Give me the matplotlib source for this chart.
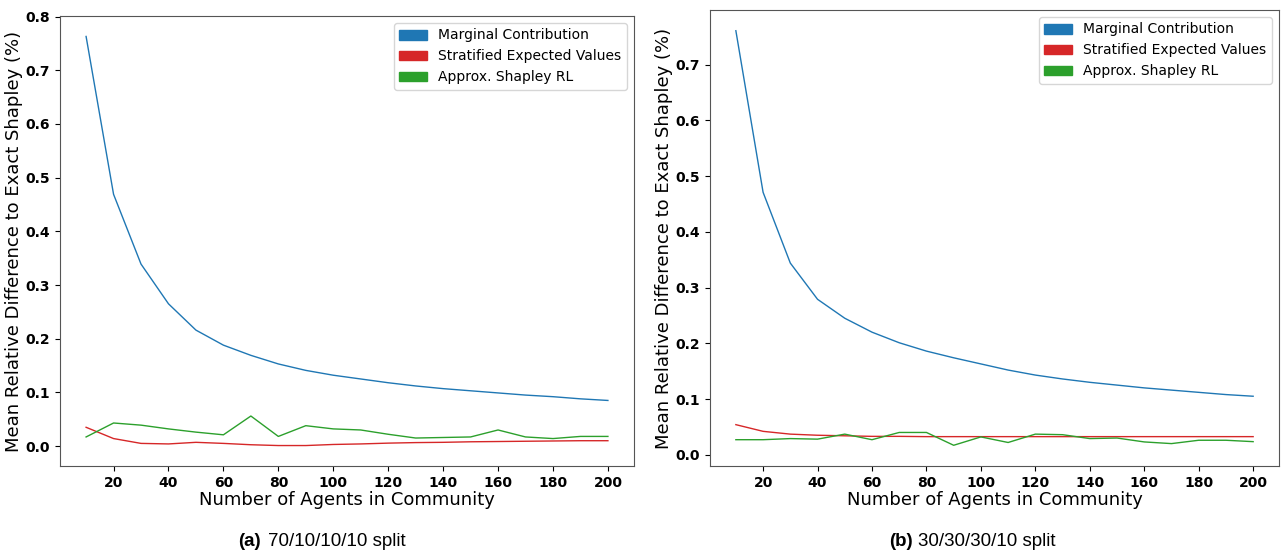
import matplotlib.pyplot as plt
from matplotlib.patches import Patch

agents = [10, 20, 30, 40, 50, 60, 70, 80, 90, 100,
          110, 120, 130, 140, 150, 160, 170, 180, 190, 200]

# (a) 70/10/10/10 split
mc_a = [0.763, 0.469, 0.339, 0.265, 0.216, 0.188, 0.169, 0.153, 0.141, 0.132,
        0.125, 0.118, 0.112, 0.107, 0.103, 0.099, 0.095, 0.092, 0.088, 0.085]
sev_a = [0.035, 0.014, 0.005, 0.004, 0.007, 0.005, 0.0025, 0.001, 0.001, 0.003,
         0.004, 0.0055, 0.0065, 0.007, 0.008, 0.0085, 0.009, 0.0095, 0.01, 0.01]
rl_a = [0.017, 0.043, 0.039, 0.032, 0.026, 0.021, 0.056, 0.018, 0.038, 0.032,
        0.030, 0.022, 0.015, 0.016, 0.017, 0.030, 0.017, 0.014, 0.018, 0.018]

# (b) 30/30/30/10 split
mc_b = [0.761, 0.471, 0.344, 0.279, 0.245, 0.220, 0.201, 0.186, 0.174, 0.163,
        0.152, 0.143, 0.136, 0.130, 0.125, 0.120, 0.116, 0.112, 0.108, 0.105]
sev_b = [0.054, 0.042, 0.037, 0.035, 0.034, 0.033, 0.033, 0.0325, 0.0325, 0.0325,
         0.0325, 0.0325, 0.0325, 0.0325, 0.0325, 0.0325, 0.0325, 0.0325, 0.0325, 0.0325]
rl_b = [0.027, 0.027, 0.029, 0.028, 0.037, 0.027, 0.040, 0.040, 0.017, 0.032,
        0.022, 0.037, 0.036, 0.029, 0.030, 0.023, 0.020, 0.026, 0.026, 0.0235]

labels = ["Marginal Contribution", "Stratified Expected Values", "Approx. Shapley RL"]
colors = ["#1f77b4", "#d62728", "#2ca02c"]
captions = [("(a)", "70/10/10/10 split"), ("(b)", "30/30/30/10 split")]

fig = plt.figure(figsize=(12.85, 5.51), dpi=100)
ax1 = fig.add_axes([60/1285, 1-466/551, 574/1285, 450/551])
ax2 = fig.add_axes([710/1285, 1-466/551, 569/1285, 456/551])

for ax, series in [(ax1, (mc_a, sev_a, rl_a)), (ax2, (mc_b, sev_b, rl_b))]:
    for ys, c in zip(series, colors):
        ax.plot(agents, ys, color=c, linewidth=1)
    ax.set_xticks(range(20, 201, 20))
    ax.tick_params(labelsize=10, colors="black")
    for sp in ax.spines.values():
        sp.set_color("#555555")
    for t in ax.get_xticklabels() + ax.get_yticklabels():
        t.set_fontweight("bold")
    ax.set_xlabel("Number of Agents in Community", fontsize=13, labelpad=1)
    ax.set_ylabel("Mean Relative Difference to Exact Shapley (%)", fontsize=13,
                  labelpad=2)
    handles = [Patch(color=c, label=l) for c, l in zip(colors, labels)]
    ax.legend(handles=handles, loc="upper right", fontsize=10)

ax1.set_yticks([0.0, 0.1, 0.2, 0.3, 0.4, 0.5, 0.6, 0.7, 0.8])
ax2.set_yticks([0.0, 0.1, 0.2, 0.3, 0.4, 0.5, 0.6, 0.7])

for (x_tag, x_txt), (tag, txt) in zip([(238, 268), (889, 918)], captions):
    fig.text(x_tag/1285, 1-541/551, tag, fontsize=13.5, fontweight="bold",
             family="Liberation Sans", ha="left", va="center")
    fig.text(x_txt/1285, 1-541/551, txt, fontsize=13.5, family="Liberation Sans",
             ha="left", va="center")

fig.savefig("out.png", dpi=100)
